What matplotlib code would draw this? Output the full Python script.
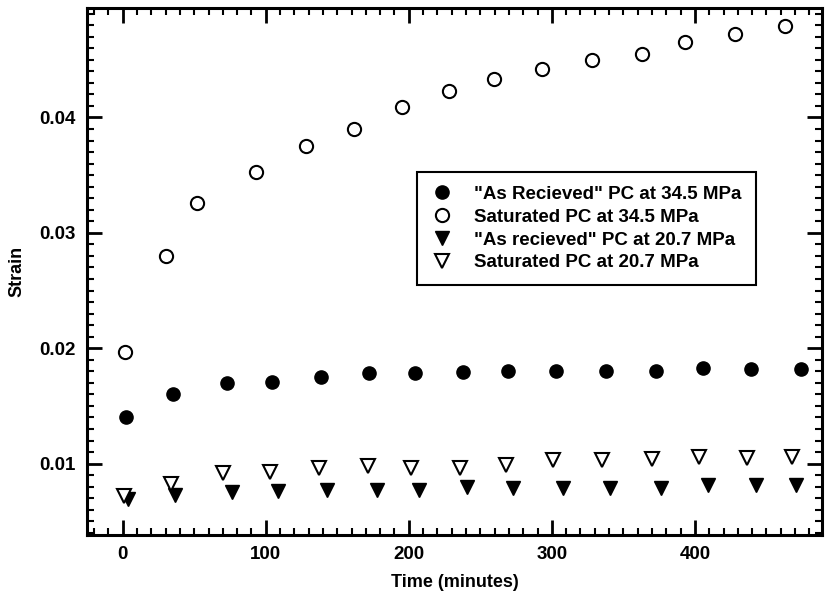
import matplotlib
matplotlib.use("Agg")
import matplotlib.pyplot as plt
from matplotlib.ticker import MultipleLocator

plt.rcParams['font.family'] = ['Liberation Sans', 'DejaVu Sans']
plt.rcParams['font.weight'] = 'bold'

# time (minutes) and strain
t_ar345 = [2, 35, 73, 104.5, 138.7, 172, 204.6, 238, 269.6, 303, 337.8, 373, 406, 439.5, 474]
s_ar345 = [0.01405, 0.0160, 0.0170, 0.0171, 0.01753, 0.01785, 0.01785, 0.01797, 0.01805,
           0.01805, 0.01805, 0.01805, 0.0183, 0.0182, 0.0182]

t_sat345 = [1.6, 30.5, 52, 93.4, 127.8, 161.5, 195, 228.4, 259.8, 293, 328, 363, 393, 428, 462.8]
s_sat345 = [0.0197, 0.0280, 0.0326, 0.0353, 0.0375, 0.0390, 0.0409, 0.0423, 0.0433,
            0.0442, 0.0450, 0.0455, 0.0465, 0.0472, 0.0479]

t_ar207 = [3.7, 36.3, 76.3, 108.5, 142.7, 177.6, 207.4, 241, 272.6, 307.5, 341, 376, 409, 442.5, 470.5]
s_ar207 = [0.0069, 0.00724, 0.00753, 0.00762, 0.0077, 0.0077, 0.0077, 0.0080, 0.0079,
           0.0079, 0.00785, 0.00785, 0.00815, 0.00815, 0.00815]

t_sat207 = [0.7, 33.5, 70, 102.7, 136.9, 171.3, 201.6, 235.5, 268, 300.5, 335, 370, 403, 436.7, 467.6]
s_sat207 = [0.00718, 0.00826, 0.00916, 0.00927, 0.00965, 0.0098, 0.00965, 0.00965, 0.00985,
            0.0103, 0.0103, 0.01043, 0.0106, 0.0105, 0.0106]

labels = ['"As Recieved" PC at 34.5 MPa', 'Saturated PC at 34.5 MPa',
          '"As recieved" PC at 20.7 MPa', 'Saturated PC at 20.7 MPa']

fig = plt.figure(figsize=(8.28, 6.02), dpi=100)
ax = fig.add_axes([0.105, 0.111, 0.888, 0.876])

ax.plot(t_ar345, s_ar345, 'o', ms=9.5, mfc='black', mec='black', ls='none', label=labels[0])
ax.plot(t_sat345, s_sat345, 'o', ms=9.5, mfc='white', mec='black', mew=1.5, ls='none', label=labels[1])
ax.plot(t_ar207, s_ar207, 'v', ms=9.5, mfc='black', mec='black', ls='none', label=labels[2])
ax.plot(t_sat207, s_sat207, 'v', ms=9.5, mfc='white', mec='black', mew=1.5, ls='none', label=labels[3])

ax.set_xlim(-25, 489)
ax.set_ylim(0.0038, 0.0495)
ax.xaxis.set_major_locator(MultipleLocator(100))
ax.xaxis.set_minor_locator(MultipleLocator(10))
ax.yaxis.set_major_locator(MultipleLocator(0.01))
ax.yaxis.set_minor_locator(MultipleLocator(0.001))
ax.set_yticks([0.01, 0.02, 0.03, 0.04])

ax.tick_params(which='both', direction='in', top=True, right=True, labelsize=13.5, pad=8)
ax.tick_params(which='major', length=11, width=2)
ax.tick_params(which='minor', length=5, width=1.5)
for sp in ax.spines.values():
    sp.set_linewidth(2.2)

ax.set_xlabel('Time (minutes)', fontsize=13, fontweight='bold', labelpad=8)
ax.set_ylabel('Strain', fontsize=13, fontweight='bold', labelpad=10)

leg = ax.legend(loc='upper left', bbox_to_anchor=(0.449, 0.689), fontsize=13.5,
                frameon=True, fancybox=False, edgecolor='black', framealpha=1,
                handlelength=1.2, handletextpad=1.1, labelspacing=0.3,
                borderpad=0.75, borderaxespad=0)
leg.get_frame().set_linewidth(1.5)

fig.savefig('out.png', dpi=100)
